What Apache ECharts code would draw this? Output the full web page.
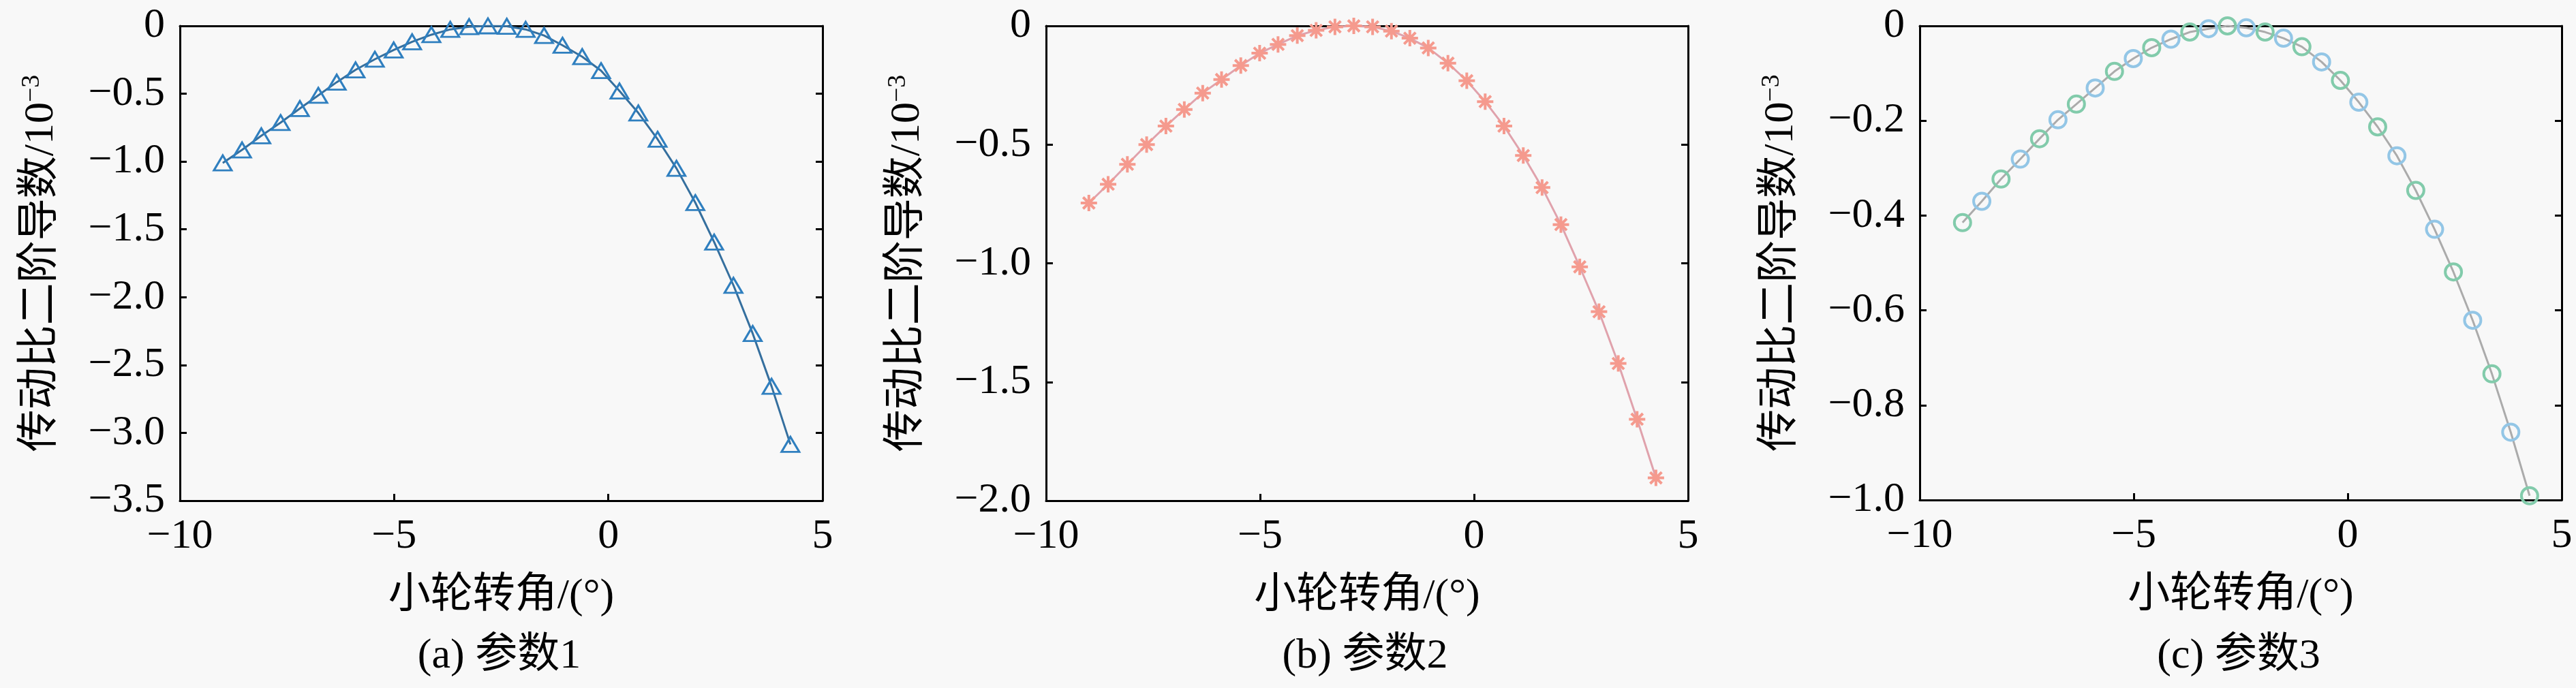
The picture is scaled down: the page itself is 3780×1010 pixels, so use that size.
<!DOCTYPE html>
<html>
<head>
<meta charset="utf-8">
<script src="https://cdn.jsdelivr.net/npm/echarts@6/dist/echarts.min.js"></script>
<style>
html,body{margin:0;padding:0;background:#f8f8f8;}
#main{width:3780px;height:1010px;}
</style>
</head>
<body>
<div id="main"></div>
<script>
// Small wheel rotation angle (deg), shared by all three panels
const angle = [-9.0, -8.55, -8.1, -7.65, -7.2, -6.77, -6.34, -5.9, -5.45, -5.01, -4.58, -4.13, -3.69, -3.25, -2.81, -2.37, -1.93, -1.5, -1.07, -0.61, -0.17, 0.26, 0.7, 1.15, 1.59, 2.03, 2.47, 2.92, 3.37, 3.81, 4.25];
// Second derivative of transmission ratio (x10^-3)
const param1 = [-1.01, -0.914, -0.81, -0.713, -0.609, -0.512, -0.415, -0.324, -0.246, -0.178, -0.117, -0.065, -0.026, -0.006, 0.0, -0.003, -0.026, -0.071, -0.143, -0.227, -0.33, -0.48, -0.642, -0.836, -1.05, -1.303, -1.594, -1.912, -2.268, -2.657, -3.085];
const param2 = [-0.746, -0.667, -0.583, -0.5, -0.422, -0.352, -0.283, -0.226, -0.167, -0.115, -0.078, -0.041, -0.019, -0.004, 0.0, -0.004, -0.022, -0.052, -0.093, -0.157, -0.231, -0.319, -0.422, -0.546, -0.681, -0.837, -1.015, -1.204, -1.422, -1.657, -1.904];
const param3 = [-0.415, -0.37, -0.323, -0.281, -0.238, -0.198, -0.165, -0.131, -0.096, -0.069, -0.046, -0.028, -0.013, -0.006, 0.0, -0.004, -0.013, -0.026, -0.044, -0.076, -0.115, -0.161, -0.213, -0.274, -0.347, -0.429, -0.519, -0.621, -0.734, -0.857, -0.991];
const xTicks = {min: -10, max: 5, interval: 5};
const yTicks = [
  {min: -3.5, max: 0, interval: 0.5},
  {min: -2.0, max: 0, interval: 0.5},
  {min: -1.0, max: 0, interval: 0.2}
];
const captions = ['(a) 参数1', '(b) 参数2', '(c) 参数3'];
const xName = '小轮转角/(°)';
const yName = '传动比二阶导数/10';

const FONT = '"Liberation Serif", "Noto Sans CJK SC", serif';
const FS = 62;
const grids = [
  {left: 264, top: 38, width: 943, height: 697},
  {left: 1535, top: 38, width: 942, height: 697},
  {left: 2817, top: 38, width: 942, height: 696}
];
const fmtX = v => v === 0 ? '0' : (v < 0 ? '\u2212' : '') + Math.abs(v);
const fmtY = v => v === 0 ? '0' : '\u2212' + Math.abs(v).toFixed(1);
const lineAxis = {onZero: false, lineStyle: {color: '#000', width: 3}};
const tickIn = {inside: true, length: 10, lineStyle: {width: 3, color: '#000'}};

const xAxes = [], yAxes = [], series = [], titles = [];
grids.forEach((g, i) => {
  xAxes.push({
    type: 'value', gridIndex: i, min: xTicks.min, max: xTicks.max, interval: xTicks.interval,
    position: 'bottom',
    axisLine: lineAxis, axisTick: tickIn,
    axisLabel: {formatter: fmtX, fontFamily: FONT, fontSize: FS, color: '#000', margin: 22},
    splitLine: {show: false},
    name: xName, nameLocation: 'middle', nameGap: 110,
    nameTextStyle: {fontFamily: FONT, fontSize: FS, color: '#000'}
  });
  xAxes.push({
    type: 'value', gridIndex: i, min: xTicks.min, max: xTicks.max, interval: xTicks.interval,
    position: 'top', axisLine: lineAxis, axisTick: {show: false}, axisLabel: {show: false}, splitLine: {show: false}
  });
  const yt = yTicks[i];
  yAxes.push({
    type: 'value', gridIndex: i, min: yt.min, max: yt.max, interval: yt.interval,
    position: 'left',
    axisLine: lineAxis, axisTick: tickIn,
    axisLabel: {formatter: fmtY, fontFamily: FONT, fontSize: FS, color: '#000', margin: 22},
    splitLine: {show: false},
    name: yName + '{sup|\u22123}', nameLocation: 'middle', nameGap: 170, nameRotate: 90,
    nameTextStyle: {fontFamily: FONT, fontSize: FS, color: '#000',
      rich: {sup: {fontFamily: FONT, fontSize: 38, color: '#000', padding: [0, 0, 28, 0]}}}
  });
  yAxes.push({
    type: 'value', gridIndex: i, min: yt.min, max: yt.max, interval: yt.interval,
    position: 'right',
    axisLine: lineAxis, axisTick: tickIn,
    axisLabel: {show: false}, splitLine: {show: false}
  });
  titles.push({
    text: captions[i], left: g.left + g.width / 2 - 8, top: 928, textAlign: 'center',
    textStyle: {fontFamily: FONT, fontSize: FS, fontWeight: 'normal', color: '#000'}
  });
});

const asterisk = 'path://M0,-10L0,10M-10,0L10,0M-7.07,-7.07L7.07,7.07M-7.07,7.07L7.07,-7.07';

series.push({
  type: 'line', xAxisIndex: 0, yAxisIndex: 0,
  data: angle.map((x, k) => [x, param1[k]]),
  lineStyle: {color: '#356f9e', width: 3},
  symbol: 'triangle', symbolSize: [26, 22],
  itemStyle: {color: 'rgba(0,0,0,0)', borderColor: '#2f7fbf', borderWidth: 3}
});
series.push({
  type: 'line', xAxisIndex: 2, yAxisIndex: 2,
  data: angle.map((x, k) => [x, param2[k]]),
  lineStyle: {color: '#e0a2ac', width: 3},
  symbol: asterisk, symbolSize: 24,
  itemStyle: {color: 'rgba(0,0,0,0)', borderColor: '#f59a8e', borderWidth: 4}
});
series.push({
  type: 'line', xAxisIndex: 4, yAxisIndex: 4,
  data: angle.map((x, k) => ({value: [x, param3[k]], itemStyle: {borderColor: k % 2 ? '#93c6e6' : '#82cbab'}})),
  lineStyle: {color: '#ababab', width: 3},
  symbol: 'circle', symbolSize: 24,
  itemStyle: {color: 'rgba(0,0,0,0)', borderColor: '#82cbab', borderWidth: 4}
});

const chart = echarts.init(document.getElementById('main'), null, {renderer: 'canvas'});
chart.setOption({
  backgroundColor: '#f8f8f8',
  animation: false,
  title: titles,
  grid: grids,
  xAxis: xAxes,
  yAxis: yAxes,
  series: series
});
</script>
</body>
</html>
